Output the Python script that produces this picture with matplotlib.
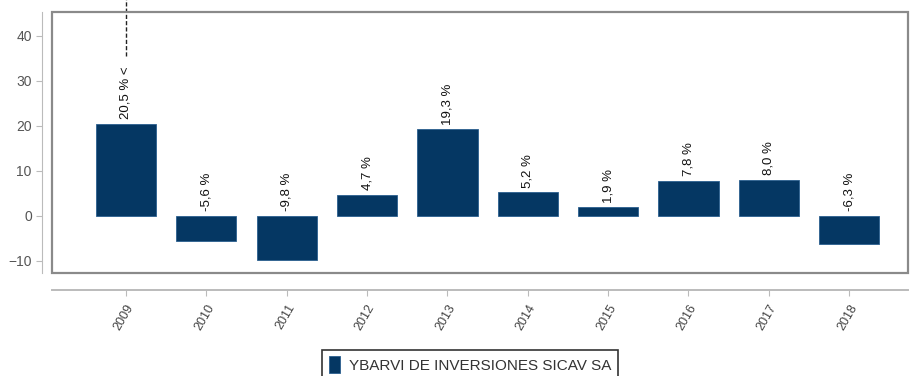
import matplotlib.pyplot as plt
from matplotlib.patches import Rectangle

plt.rcParams["font.family"] = ["Liberation Sans", "DejaVu Sans"]

years = ["2009", "2010", "2011", "2012", "2013", "2014", "2015", "2016", "2017", "2018"]
returns = [20.5, -5.6, -9.8, 4.7, 19.3, 5.2, 1.9, 7.8, 8.0, -6.3]
series_name = "YBARVI DE INVERSIONES SICAV SA"
bar_color = "#053763"

fig = plt.figure(figsize=(9.18, 3.76), dpi=100)
ax = fig.add_axes([0.0566, 0.274, 0.9324, 0.694])

x = list(range(len(years)))
ax.bar(x, returns, width=0.75, color=bar_color, edgecolor="#2a5f8f", linewidth=0.6,
       label=series_name, zorder=2)

ax.set_xlim(-0.92, 9.73)
ax.set_ylim(-12.7, 45.3)

# etiquetas de rentabilidad encima de cada barra (o del cero si es negativa)
for i, v in enumerate(returns):
    txt = f"{v:.1f} %".replace(".", ",")
    base = max(v, 0) + 1.0
    if i == 0:
        txt = txt + " <"
    ax.text(i, base, txt, rotation=90, ha="center", va="bottom", fontsize=9.5,
            color="#111111", zorder=3)

# linea discontinua que sale del primer rotulo
ax.plot([0, 0], [35.5, 48.5], linestyle=(0, (3, 1.5)), color="#222222", lw=1.0,
        clip_on=False, zorder=3)

# marco gris alrededor del area de trazado
ax.add_patch(Rectangle((0, 0), 1, 1, transform=ax.transAxes, fill=False,
                       edgecolor="#8a8a8a", lw=1.6, clip_on=False, zorder=4))

for s in ["top", "right"]:
    ax.spines[s].set_visible(False)
ax.spines["left"].set_position(("outward", 7))
ax.spines["bottom"].set_position(("outward", 12))
ax.spines["left"].set_color("#bbbbbb")
ax.spines["bottom"].set_color("#bbbbbb")
ax.spines["bottom"].set_linewidth(1.4)

ax.set_yticks([-10, 0, 10, 20, 30, 40])
ax.set_xticks(x)
ax.set_xticklabels(years, rotation=60, ha="right", rotation_mode="anchor")
ax.tick_params(axis="y", labelsize=10, colors="#555555", length=4, color="#bbbbbb")
ax.tick_params(axis="x", labelsize=9, colors="#444444", length=4, color="#bbbbbb", pad=5)

leg = fig.legend(loc="center", bbox_to_anchor=(0.512, 0.03), frameon=True, fancybox=False,
                 fontsize=11, handlelength=0.75, handleheight=1.3, handletextpad=0.6,
                 borderpad=0.45, borderaxespad=0)
leg.get_frame().set_edgecolor("black")
leg.get_frame().set_linewidth(1.2)
for t in leg.get_texts():
    t.set_color("#333333")

fig.savefig("out.png", dpi=100)
